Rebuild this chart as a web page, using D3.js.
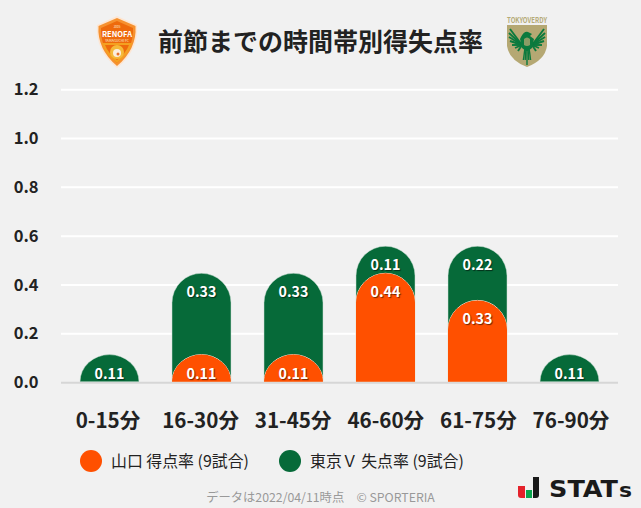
<!DOCTYPE html>
<html><head><meta charset="utf-8">
<script src="https://cdn.jsdelivr.net/npm/d3@7"></script>
<style>
html,body{margin:0;padding:0;background:#f1f1f1}
svg{display:block}
text{font-family:"Noto Sans CJK JP","Noto Sans",sans-serif}
</style></head><body><svg id="c" width="641" height="508"></svg>
<script>
const categories=["0-15分","16-30分","31-45分","46-60分","61-75分","76-90分"];
const scoreRate=[0,0.111,0.111,0.444,0.333,0];
const concedeRate=[0.111,0.333,0.333,0.111,0.222,0.111];
const yTicks=[0,0.2,0.4,0.6,0.8,1.0,1.2];
const title="前節までの時間帯別得失点率";
const legendLabels=["山口 得点率 (9試合)","東京Ｖ 失点率 (9試合)"];
const footer="データは2022/04/11時点　© SPORTERIA";
const ORANGE="#ff5000",GREEN="#066a39";

const svg=d3.select("#c");
const x=d3.scaleBand().domain(categories).range([63.5,615.5]).paddingInner(0.3587).paddingOuter(0.1793);
const xLabel=d3.scalePoint().domain(categories).range([108,571]);
const y=d3.scaleLinear().domain([0,1.2]).range([382.7,89.7]);
const barY=v=>y(v)-1;

// grid
svg.append("g").selectAll("line").data(yTicks.slice(1)).join("line")
 .attr("x1",61).attr("x2",618).attr("y1",d=>y(d)).attr("y2",d=>y(d))
 .attr("stroke","#fff").attr("stroke-width",2);
svg.append("line").attr("x1",61).attr("x2",618).attr("y1",y(0)).attr("y2",y(0))
 .attr("stroke","#d6d6d6").attr("stroke-width",2);

// y labels
svg.append("g").selectAll("text").data(yTicks).join("text")
 .attr("x",38.5).attr("y",d=>y(d)+5.5).attr("text-anchor","end")
 .attr("font-size",16.5).attr("font-weight",700).attr("fill","#222")
 .text(d=>d.toFixed(1));
// x labels
svg.append("g").selectAll("text").data(categories).join("text")
 .attr("x",d=>xLabel(d)).attr("y",427.5).attr("text-anchor","middle")
 .attr("font-size",20.6).attr("font-weight",700).attr("fill","#222").text(d=>d);

function capPath(cx,w,top,base){
  const r=w/2,h=base-top,ry=Math.min(r,h);
  return `M${cx-r},${base}V${top+ry}A${r},${ry} 0 0 1 ${cx+r},${top+ry}V${base}Z`;
}
const rows=categories.map((c,i)=>({c,s:scoreRate[i],g:concedeRate[i],cx:x(c)+x.bandwidth()/2}));
const bw=x.bandwidth();
svg.append("g").selectAll("path").data(rows).join("path")
 .attr("fill",GREEN).attr("stroke","#cfe0d6").attr("stroke-width",.5)
 .attr("d",d=>capPath(d.cx,bw,barY(d.s+d.g),barY(0)));
svg.append("g").selectAll("path").data(rows.filter(d=>d.s>0)).join("path")
 .attr("fill",ORANGE).attr("stroke","#f5e8dc").attr("stroke-width",1).attr("paint-order","stroke")
 .attr("d",d=>capPath(d.cx,bw,barY(d.s),barY(0)));

// value labels
const lbl=(sel)=>sel.attr("text-anchor","middle").attr("font-size",14.3).attr("font-weight",700)
 .attr("fill","#fff").style("text-shadow","1px 1px 1px rgba(0,0,0,.55)");
svg.append("g").selectAll("text").data(rows).join("text")
 .call(lbl).attr("x",d=>d.cx)
 .attr("y",d=>barY(d.s+d.g)+24)
 .text(d=>d.g.toFixed(2));
svg.append("g").selectAll("text").data(rows.filter(d=>d.s>0)).join("text")
 .call(lbl).attr("x",d=>d.cx)
 .attr("y",d=>barY(d.s)+24)
 .text(d=>d.s.toFixed(2));

// title
svg.append("text").attr("x",320.5).attr("y",51).attr("text-anchor","middle")
 .attr("font-size",25).attr("font-weight",700).attr("fill","#222").text(title);

// legend
const lx=[91,290];
legendLabels.forEach((t,i)=>{
 svg.append("circle").attr("cx",lx[i]).attr("cy",461).attr("r",11).attr("fill",i?GREEN:ORANGE);
 svg.append("text").attr("x",lx[i]+20).attr("y",466.5).attr("font-size",15.9).attr("fill","#222").text(t);
});
// footer
svg.append("text").attr("x",320.5).attr("y",502).attr("text-anchor","middle")
 .attr("font-size",12.3).attr("fill","#999").text(footer);

// Renofa badge
const b=svg.append("g").attr("transform","translate(117,42)");
b.append("path").attr("d","M0,-26 L20,-17 Q22,8 0,26 Q-22,8 -20,-17 Z").attr("fill","#fde6d3");
b.append("path").attr("d","M0,-24 L18.5,-16 Q20,7 0,24 Q-20,7 -18.5,-16 Z").attr("fill","#f6912f");
b.append("path").attr("d","M0,-21 L16,-14 Q17,6 0,21 Q-17,6 -16,-14 Z").attr("fill","#ee6a0c");
b.append("path").attr("d","M-15,1 H15 Q12,12 0,21 Q-12,12 -15,1 Z").attr("fill","#f4a020");
b.append("path").attr("d","M-12,3 H12 Q9,11 0,18 Q-9,11 -12,3 Z").attr("fill","#ee6a0c");
b.append("text").attr("y",-5).attr("text-anchor","middle").attr("font-size",7.5).attr("font-weight",700).attr("fill","#fff").text("RENOFA");
b.append("text").attr("y",0).attr("text-anchor","middle").attr("font-size",3.4).attr("fill","#ffe9d5").text("YAMAGUCHI FC");
b.append("text").attr("y",-14.5).attr("text-anchor","middle").attr("font-size",3).attr("fill","#ffe9d5").text("2005");
b.append("circle").attr("cy",10).attr("r",7).attr("fill","#f5b93a");
b.append("circle").attr("cy",11).attr("r",4).attr("fill","#fbeedd");
b.append("circle").attr("cx",1).attr("cy",12).attr("r",1.5).attr("fill","#e8702a");

// Verdy badge
const v=svg.append("g").attr("transform","translate(527,42)");
v.append("text").attr("x",-20).attr("y",-19.5).attr("font-size",7.5).attr("font-weight",700).attr("fill","#b5ab78")
 .attr("textLength",40).attr("lengthAdjust","spacingAndGlyphs").text("TOKYOVERDY");
v.append("path").attr("d","M-20,-17 H20 V4 Q18,18 0,25 Q-18,18 -20,4 Z").attr("fill","#b5a873");
const EAGLE="#0b7a3e";
[[-17,-13],[-18,-9],[-18,-5],[-17,-1],[-15,3],[-12,6],[-9,9]].forEach(([fx,fy])=>{
 [1,-1].forEach(m=>v.append("line").attr("x1",m*5).attr("y1",3).attr("x2",m*-fx).attr("y2",fy)
   .attr("stroke",EAGLE).attr("stroke-width",1.9));
});
v.append("path").attr("d","M-6,-5 Q-3,-11 1,-10 L5,-8 L3,-6 L7,-3 L5,6 L1,9 H-1 L-5,6 L-7,-3 Z").attr("fill",EAGLE);
[-4,-2,0,2,4].forEach(d=>v.append("line").attr("x1",d*.5).attr("y1",6).attr("x2",d*.9).attr("y2",d===0?23:18).attr("stroke",EAGLE).attr("stroke-width",1.4));
v.append("path").attr("d","M-3,-3 Q0,-6 3,-3 L3,3 Q0,5 -3,3 Z").attr("fill","#b5a873").attr("opacity",.75);

// STATS logo
const s=svg.append("g");
s.append("path").attr("d","M518,486 H525 V498 H521 Q518,498 518,495 Z").attr("fill","#e4222b");
s.append("rect").attr("x",526).attr("y",490).attr("width",6).attr("height",8).attr("fill","#0aa64e");
s.append("path").attr("d","M533,477 H539 V495 Q539,498 536,498 H533 Z").attr("fill","#1a1a1a");
s.append("text").attr("x",549).attr("y",497).style("font-family","'DejaVu Sans',sans-serif").attr("font-weight",700).attr("fill","#1a1a1a")
 .attr("font-size",23).attr("textLength",69).attr("lengthAdjust","spacingAndGlyphs").text("STAT");
s.append("text").attr("x",619).attr("y",497).style("font-family","'DejaVu Sans',sans-serif").attr("font-weight",700).attr("fill","#1a1a1a")
 .attr("font-size",19).attr("textLength",13).attr("lengthAdjust","spacingAndGlyphs").text("s");
</script></body></html>
